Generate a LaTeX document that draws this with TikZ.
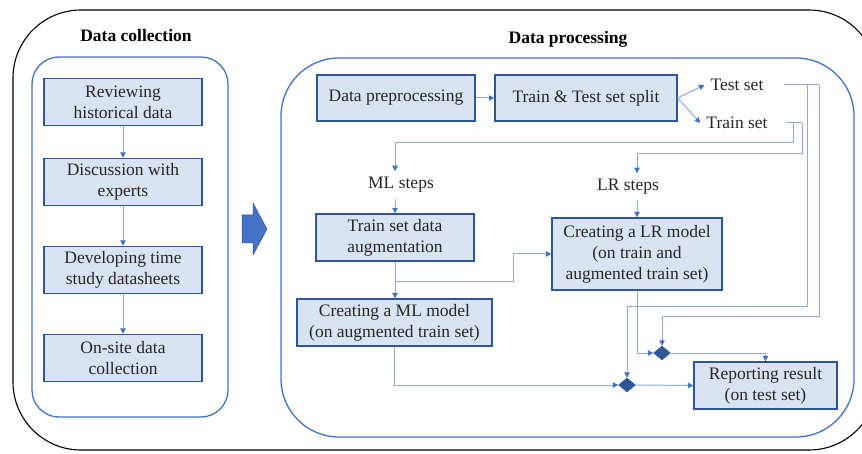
\documentclass[tikz,border=0pt]{standalone}
\usepackage{fontspec}
\setmainfont{LiberationSerif}[Extension=.ttf,UprightFont=*-Regular,BoldFont=*-Bold,
  ItalicFont=*-Italic,BoldItalicFont=*-BoldItalic]
\usetikzlibrary{arrows.meta,positioning,shapes.geometric}
\definecolor{boxfill}{HTML}{DAE3F3}
\definecolor{boxline}{HTML}{2F5597}
\definecolor{grpblue}{HTML}{4472C4}
\definecolor{lineblue}{HTML}{8FAADC}
\definecolor{tipblue}{HTML}{4472C4}
\definecolor{dkblue}{HTML}{2F5597}
\newcommand{\bodyfont}{\fontsize{17.5}{21}\selectfont}
\tikzset{
  >={Triangle[length=5.5pt,width=5.5pt,color=tipblue]},
  % rutor
  box/.style={draw=boxline,fill=boxfill,line width=1.3pt,align=center,
              inner sep=0pt,text=black!85,font=\bodyfont},
  lbl/.style={inner sep=6pt,text=black!85,font=\bodyfont},
  ttl/.style={inner sep=1pt,text=black,font=\bodyfont\bfseries},
  grp/.style={draw=grpblue,line width=1.3pt},
  % pilar
  ln/.style={draw=lineblue,line width=1pt},
  arr/.style={->,draw=lineblue,line width=1pt},
  jn/.style={diamond,fill=dkblue,draw=dkblue,inner sep=0pt,
             minimum width=17pt,minimum height=14pt},
}

\begin{document}
\begin{tikzpicture}[x=1pt,y=-1pt]
\useasboundingbox (0,0) rectangle (862,454);
\clip (0,0) rectangle (862,454);
\draw[black,line width=1.1pt,rounded corners=68pt] (13,10) rectangle (877,450);
% data collection
\node[ttl] (dctitle) at (136,36) {Data collection};
\draw[grp,rounded corners=27pt] (32,57) rectangle (228,417);
\node[box,minimum width=158pt,minimum height=47pt] (rev) at (123,102) {Reviewing\\historical data};
\node[box,minimum width=158pt,minimum height=47pt] (disc) at (123,182) {Discussion with\\experts};
\node[box,minimum width=158pt,minimum height=47pt] (dev) at (123,270) {Developing time\\study datasheets};
\node[box,minimum width=158pt,minimum height=47pt] (onsite) at (123,358) {On-site data\\collection};
\draw[arr] (rev) -- (disc);
\draw[arr] (disc) -- (dev);
\draw[arr] (dev) -- (onsite);
\fill[grpblue,draw=dkblue,line width=0.5pt] (242,215) -- (253,215) -- (253,203) -- (267,229)
  -- (253,255) -- (253,243) -- (242,243) -- cycle;
% data processing
\node[ttl] (dptitle) at (568,39) {Data processing};
\draw[grp,rounded corners=58pt] (281,58) rectangle (854,437);
\node[box,minimum width=158pt,minimum height=46pt] (prep) at (396,98) {Data preprocessing};
\node[box,minimum width=182pt,minimum height=46pt] (split) at (586,98) {Train \& Test set split};
\node[lbl] (test) at (737,85) {Test set};
\node[lbl] (train) at (737,123) {Train set};
\node[lbl] (mlsteps) at (401,185) {ML steps};
\node[lbl] (lrsteps) at (628,187) {LR steps};
\node[box,minimum width=158pt,minimum height=47pt] (aug) at (395,237.5) {Train set data\\augmentation};
\node[box,minimum width=195pt,minimum height=47pt] (mlm) at (394.5,322.5) {Creating a ML model\\(on augmented train set)};
\node[box,minimum width=170pt,minimum height=72pt] (lrm) at (637,254) {Creating a LR model\\(on train and\\augmented train set)};
\node[box,minimum width=143pt,minimum height=47pt] (rep) at (765.5,385.5) {Reporting result\\(on test set)};
\node[jn] (j1) at (662,353) {};
\node[jn] (j2) at (627,385) {};
\draw[arr] (prep) -- (split);
\draw[arr] (split.east) -- (test.west);
\draw[arr] (split.east) -- (train.west);
\draw[ln] ([xshift=14pt]test.east) -- (819,85);
\draw[arr] (819,85) -- (819,317) -| (j1.north);
\draw[arr] (807,85) -- (807,307) -| (j2.north);
\draw[ln] ([xshift=12pt]train.east) -- (802,123);
\draw[arr] (793,123) -- (793,143) -| (aug.north |- mlsteps.north);
\draw[arr] (802,123) -- (802,154) -| (lrm.north |- lrsteps.north);
\draw[arr] (aug.north |- mlsteps.south) -- (aug.north);
\draw[arr] (lrm.north |- lrsteps.south) -- (lrm.north);
\draw[arr] (aug.south) -- (aug.south |- mlm.north);
\draw[arr] (aug.south |- 0,282) -- (513,282) |- (lrm.west);
\draw[arr] (mlm.south) |- (j2.west);
\draw[arr] (lrm.south) |- (j1.west);
\draw[arr] (j1.east) -| (rep.north);
\draw[arr] (j2.east) -- (rep.west);
\end{tikzpicture}
\end{document}
